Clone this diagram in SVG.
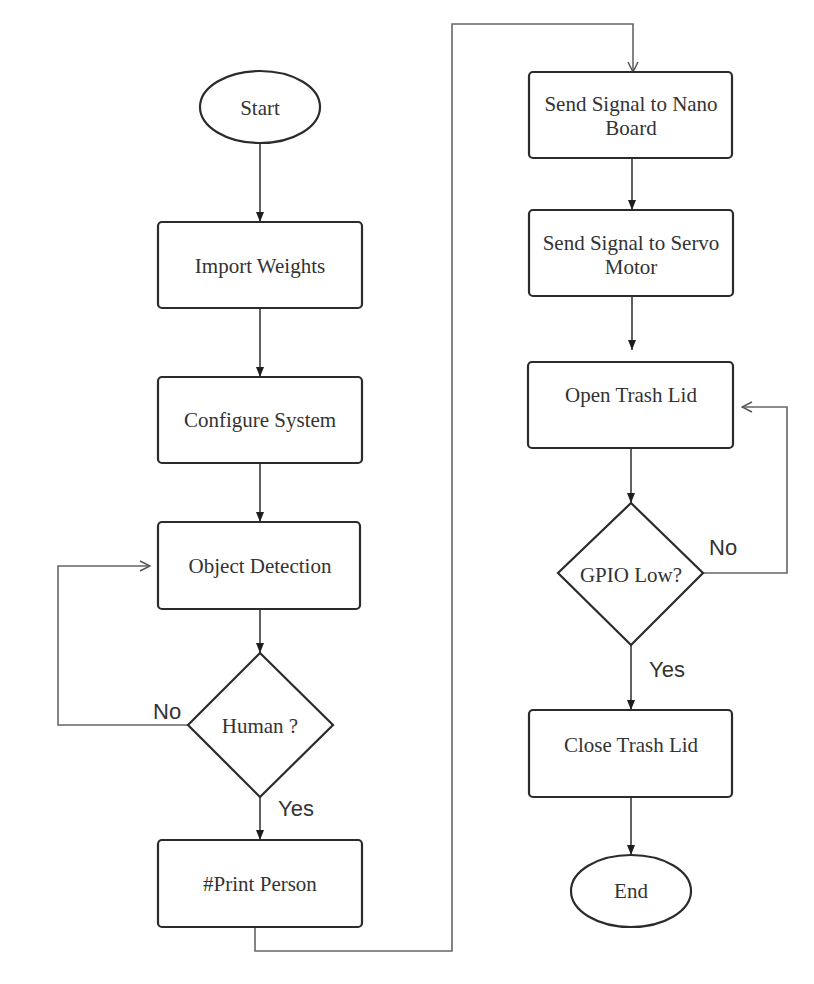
<svg xmlns="http://www.w3.org/2000/svg" width="814" height="984" viewBox="0 0 814 984">
<style>
.box{fill:#fff;stroke:#2b2b2b;stroke-width:2.2}
.t{font-family:"Liberation Serif","Times New Roman",serif;font-size:21px;fill:#333;text-anchor:middle}
.lbl{font-family:"Liberation Sans",Arial,sans-serif;font-size:22px;fill:#333}
.c{fill:none;stroke:#3a3a3a;stroke-width:1.6}
.cl{fill:none;stroke:#666;stroke-width:1.6}
</style>
<defs>
<marker id="fa" markerUnits="userSpaceOnUse" markerWidth="10" markerHeight="10" viewBox="0 0 10 10" refX="10" refY="5" orient="auto"><path d="M0,1 L10,5 L0,9 z" fill="#1e1e1e"/></marker>
<marker id="oa" markerUnits="userSpaceOnUse" markerWidth="12" markerHeight="12" viewBox="0 0 12 12" refX="11" refY="6" orient="auto"><path d="M1,1 L11,6 L1,11" fill="none" stroke="#555" stroke-width="1.5"/></marker>
</defs>
<rect width="814" height="984" fill="#fff"/>
<g id="connectors">
<path class="c" d="M260,143 V222" marker-end="url(#fa)"/>
<path class="c" d="M260,308 V377" marker-end="url(#fa)"/>
<path class="c" d="M260,463 V522" marker-end="url(#fa)"/>
<path class="c" d="M260,609 V653" marker-end="url(#fa)"/>
<path class="c" d="M260,797 V840" marker-end="url(#fa)"/>
<path class="cl" d="M188,725 H58 V566 H150" marker-end="url(#oa)"/>
<path class="cl" d="M255,927 V951 H452 V24 H633 V72" marker-end="url(#oa)"/>
<path class="c" d="M632,158 V210" marker-end="url(#fa)"/>
<path class="c" d="M632,296 V350" marker-end="url(#fa)"/>
<path class="c" d="M631,448 V503" marker-end="url(#fa)"/>
<path class="cl" d="M703,573 H787 V407 H742" marker-end="url(#oa)"/>
<path class="c" d="M631,645 V710" marker-end="url(#fa)"/>
<path class="c" d="M631,797 V855" marker-end="url(#fa)"/>
</g>
<g id="start"><ellipse class="box" cx="260" cy="107" rx="60" ry="36"/><text class="t" x="260" y="115">Start</text></g>
<g id="import"><rect class="box" x="158" y="222" width="204" height="86" rx="4"/><text class="t" x="260" y="273">Import Weights</text></g>
<g id="configure"><rect class="box" x="158" y="377" width="204" height="86" rx="4"/><text class="t" x="260" y="427">Configure System</text></g>
<g id="detect"><rect class="box" x="158" y="522" width="202" height="87" rx="4"/><text class="t" x="260" y="573">Object Detection</text></g>
<g id="human"><polygon class="box" points="260,653 333,725 260,797 188,725"/><text class="t" x="260" y="733">Human ?</text></g>
<g id="print"><rect class="box" x="158" y="840" width="204" height="87" rx="4"/><text class="t" x="260" y="891">#Print Person</text></g>
<g id="nano"><rect class="box" x="529" y="72" width="203" height="86" rx="4"/><text class="t" x="631" y="111">Send Signal to Nano</text><text class="t" x="631" y="135">Board</text></g>
<g id="servo"><rect class="box" x="529" y="210" width="204" height="86" rx="4"/><text class="t" x="631" y="250">Send Signal to Servo</text><text class="t" x="631" y="274">Motor</text></g>
<g id="open"><rect class="box" x="528" y="362" width="205" height="86" rx="4"/><text class="t" x="631" y="402">Open Trash Lid</text></g>
<g id="gpio"><polygon class="box" points="631,503 703,573 631,645 558,573"/><text class="t" x="631" y="582">GPIO Low?</text></g>
<g id="close"><rect class="box" x="529" y="710" width="203" height="87" rx="4"/><text class="t" x="631" y="752">Close Trash Lid</text></g>
<g id="end"><ellipse class="box" cx="631" cy="891" rx="60" ry="36"/><text class="t" x="631" y="898">End</text></g>
<g id="labels">
<text class="lbl" x="153" y="719">No</text>
<text class="lbl" x="278" y="816">Yes</text>
<text class="lbl" x="709" y="555">No</text>
<text class="lbl" x="649" y="677">Yes</text>
</g>
</svg>
